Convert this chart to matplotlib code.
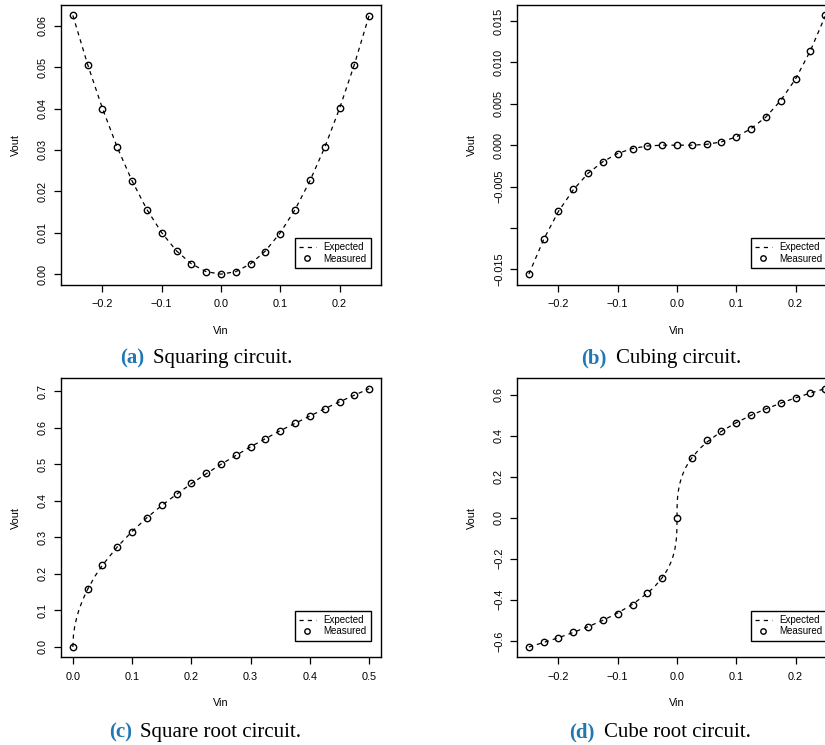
import matplotlib
matplotlib.use("Agg")
import matplotlib.pyplot as plt

plt.rcParams['font.family'] = ['Liberation Sans', 'DejaVu Sans']
plt.rcParams['axes.unicode_minus'] = True
plt.rcParams['lines.scale_dashes'] = False

# ---------------- data ----------------
vin_sym = [-0.25, -0.225, -0.2, -0.175, -0.15, -0.125, -0.1, -0.075, -0.05, -0.025, 0.0,
           0.025, 0.05, 0.075, 0.1, 0.125, 0.15, 0.175, 0.2, 0.225, 0.25]
vin_pos = [0.0, 0.025, 0.05, 0.075, 0.1, 0.125, 0.15, 0.175, 0.2, 0.225, 0.25,
           0.275, 0.3, 0.325, 0.35, 0.375, 0.4, 0.425, 0.45, 0.475, 0.5]

square_meas = [0.0625, 0.0506, 0.0400, 0.0306, 0.0225, 0.0156, 0.0100, 0.0056, 0.0025, 0.0006, 0.0000,
               0.0006, 0.0024, 0.0054, 0.0098, 0.0156, 0.0227, 0.0308, 0.0402, 0.0506, 0.0624]
square_exp = [0.0625, 0.0506, 0.0400, 0.0306, 0.0225, 0.0156, 0.0100, 0.0056, 0.0025, 0.0006, 0.0000,
              0.0006, 0.0025, 0.0056, 0.0100, 0.0156, 0.0225, 0.0306, 0.0400, 0.0506, 0.0625]

cube_meas = [-0.0156, -0.0114, -0.0080, -0.0053, -0.0034, -0.0020, -0.0011, -0.0005, -0.0001, 0.0000, 0.0000,
             0.0000, 0.0001, 0.0004, 0.0010, 0.0020, 0.0034, 0.0054, 0.0080, 0.0114, 0.0157]
cube_exp = [-0.0156, -0.0114, -0.0080, -0.0054, -0.0034, -0.0020, -0.0010, -0.0004, -0.0001, 0.0000, 0.0000,
            0.0000, 0.0001, 0.0004, 0.0010, 0.0020, 0.0034, 0.0054, 0.0080, 0.0114, 0.0156]

sqrt_meas = [0.000, 0.160, 0.225, 0.274, 0.316, 0.354, 0.388, 0.419, 0.448, 0.475, 0.500,
             0.525, 0.548, 0.570, 0.592, 0.613, 0.632, 0.652, 0.671, 0.689, 0.707]
sqrt_exp_x = [0.0, 0.001, 0.003, 0.006, 0.01, 0.015, 0.02, 0.025, 0.0375, 0.05, 0.075, 0.1, 0.125,
              0.15, 0.175, 0.2, 0.225, 0.25, 0.275, 0.3, 0.325, 0.35, 0.375, 0.4, 0.425, 0.45, 0.475, 0.5]
sqrt_exp_y = [0.000, 0.032, 0.055, 0.077, 0.100, 0.122, 0.141, 0.158, 0.194, 0.224, 0.274, 0.316, 0.354,
              0.387, 0.418, 0.447, 0.474, 0.500, 0.524, 0.548, 0.570, 0.592, 0.612, 0.632, 0.652, 0.671, 0.689, 0.707]

cbrt_meas = [-0.630, -0.608, -0.585, -0.559, -0.531, -0.500, -0.468, -0.424, -0.367, -0.293, 0.000,
             0.292, 0.378, 0.422, 0.464, 0.500, 0.531, 0.559, 0.585, 0.608, 0.630]
cbrt_exp_x = [-0.25, -0.225, -0.2, -0.175, -0.15, -0.125, -0.1, -0.075, -0.05, -0.0375, -0.025, -0.02,
              -0.015, -0.01, -0.007, -0.004, -0.002, -0.001, -0.0005, -0.0001, 0.0,
              0.0001, 0.0005, 0.001, 0.002, 0.004, 0.007, 0.01, 0.015, 0.02, 0.025, 0.0375,
              0.05, 0.075, 0.1, 0.125, 0.15, 0.175, 0.2, 0.225, 0.25]
cbrt_exp_y = [-0.630, -0.608, -0.585, -0.559, -0.531, -0.500, -0.464, -0.422, -0.368, -0.335, -0.292, -0.271,
              -0.247, -0.215, -0.191, -0.159, -0.126, -0.100, -0.079, -0.046, 0.000,
              0.046, 0.079, 0.100, 0.126, 0.159, 0.191, 0.215, 0.247, 0.271, 0.292, 0.335,
              0.368, 0.422, 0.464, 0.500, 0.531, 0.559, 0.585, 0.608, 0.630]

xticks_sym = [-0.2, -0.1, 0.0, 0.1, 0.2]
xticklabels_sym = ["\u22120.2", "\u22120.1", "0.0", "0.1", "0.2"]
xticks_pos = [0.0, 0.1, 0.2, 0.3, 0.4, 0.5]
xticklabels_pos = ["0.0", "0.1", "0.2", "0.3", "0.4", "0.5"]

yticks_a = [0.00, 0.01, 0.02, 0.03, 0.04, 0.05, 0.06]
yticklabels_a = ["0.00", "0.01", "0.02", "0.03", "0.04", "0.05", "0.06"]
yticks_b = [-0.015, -0.010, -0.005, 0.000, 0.005, 0.010, 0.015]
yticklabels_b = ["\u22120.015", "", "\u22120.005", "0.000", "0.005", "0.010", "0.015"]
yticks_c = [0.0, 0.1, 0.2, 0.3, 0.4, 0.5, 0.6, 0.7]
yticklabels_c = ["0.0", "0.1", "0.2", "0.3", "0.4", "0.5", "0.6", "0.7"]
yticks_d = [-0.6, -0.4, -0.2, 0.0, 0.2, 0.4, 0.6]
yticklabels_d = ["\u22120.6", "\u22120.4", "\u22120.2", "0.0", "0.2", "0.4", "0.6"]

captions_tag = ["(a)", "(b)", "(c)", "(d)"]
captions_text = ["Squaring circuit.", "Cubing circuit.", "Square root circuit.", "Cube root circuit."]
legend_labels = ["Expected", "Measured"]

# ---------------- layout ----------------
W, H = 825, 745
fig = plt.figure(figsize=(W / 100, H / 100), dpi=100)


def px_axes(left, top, width, height):
    return fig.add_axes([left / W, (H - top - height) / H, width / W, height / H])


panels = [
    dict(box=(61, 5, 320, 279.5), ex=vin_sym, ey=square_exp, mx=vin_sym, my=square_meas,
         xt=xticks_sym, xtl=xticklabels_sym, yt=yticks_a, ytl=yticklabels_a),
    dict(box=(517, 5, 320, 279.5), ex=vin_sym, ey=cube_exp, mx=vin_sym, my=cube_meas,
         xt=xticks_sym, xtl=xticklabels_sym, yt=yticks_b, ytl=yticklabels_b),
    dict(box=(61, 378.3, 320, 279), ex=sqrt_exp_x, ey=sqrt_exp_y, mx=vin_pos, my=sqrt_meas,
         xt=xticks_pos, xtl=xticklabels_pos, yt=yticks_c, ytl=yticklabels_c),
    dict(box=(517, 378.3, 320, 279), ex=cbrt_exp_x, ey=cbrt_exp_y, mx=vin_sym, my=cbrt_meas,
         xt=xticks_sym, xtl=xticklabels_sym, yt=yticks_d, ytl=yticklabels_d),
]

fs = 7.8
for p in panels:
    ax = px_axes(*p['box'])
    ax.plot(p['ex'], p['ey'], color='black', lw=0.9, dashes=(3, 3), label=legend_labels[0])
    ax.plot(p['mx'], p['my'], linestyle='none', marker='o', ms=4.6, mfc='none', mec='black',
            mew=1.0, label=legend_labels[1])
    xmin, xmax = min(p['mx'] + p['ex']), max(p['mx'] + p['ex'])
    ymin, ymax = min(p['my'] + p['ey']), max(p['my'] + p['ey'])
    dx, dy = 0.04 * (xmax - xmin), 0.04 * (ymax - ymin)
    ax.set_xlim(xmin - dx, xmax + dx)
    ax.set_ylim(ymin - dy, ymax + dy)
    ax.set_xticks(p['xt'])
    ax.set_xticklabels(p['xtl'])
    ax.set_yticks(p['yt'])
    ax.set_yticklabels(p['ytl'], rotation=90, va='center')
    ax.tick_params(direction='out', length=4.8, width=0.9, labelsize=fs, colors='black')
    ax.tick_params(axis='x', pad=5.5)
    ax.tick_params(axis='y', pad=4.5)
    for s in ax.spines.values():
        s.set_linewidth(1.0)
    ax.set_xlabel("Vin", fontsize=fs)
    ax.set_ylabel("Vout", fontsize=fs)
    ax.xaxis.set_label_coords(0.5, -46 / p['box'][3])
    ax.xaxis.label.set_va('center')
    ax.yaxis.set_label_coords(-45 / 320, 0.5)
    ax.yaxis.label.set_va('center')
    leg = ax.legend(loc='lower right', bbox_to_anchor=(310 / 320, 16.5 / p['box'][3]),
                    borderaxespad=0, fontsize=7, frameon=True, fancybox=False,
                    handlelength=1.7, handletextpad=0.8, labelspacing=0.15, borderpad=0.45,
                    markerscale=0.85)
    fr = leg.get_frame()
    fr.set_edgecolor('black')
    fr.set_linewidth(1.0)
    fr.set_alpha(1)

# captions (x of tag right edge, x of text left edge, baseline y) in pixels
cap_pos = [(144, 153, 363), (607, 616, 363), (132, 140, 737), (595, 604, 737)]
for (xr, xl, yb), tag, txt in zip(cap_pos, captions_tag, captions_text):
    fig.text(xr / W, 1 - yb / H, tag, ha='right', va='baseline', fontsize=15,
             family='Liberation Serif', fontweight='bold', color='#1f78b4')
    fig.text(xl / W, 1 - yb / H, txt, ha='left', va='baseline', fontsize=15,
             family='Liberation Serif', color='black')

fig.savefig("out.png", dpi=100)
